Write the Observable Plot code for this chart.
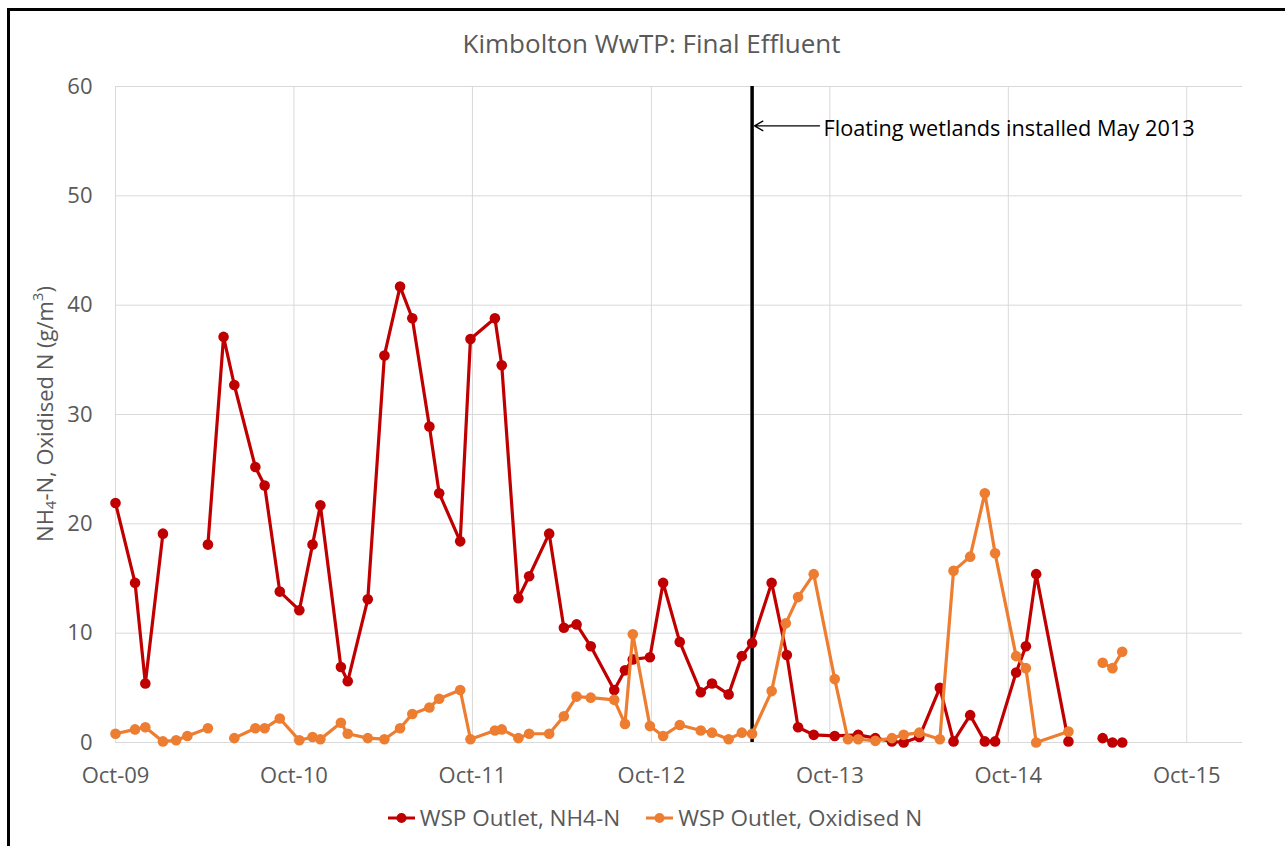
<!DOCTYPE html>
<html>
<head>
<meta charset="utf-8">
<script src="https://cdn.jsdelivr.net/npm/d3@7"></script>
<script src="https://cdn.jsdelivr.net/npm/@observablehq/plot@0.6"></script>
<style>
  html, body { margin: 0; padding: 0; background: #fff; }
  body { width: 1285px; height: 846px; overflow: hidden; position: relative; font-family: "Open Sans", sans-serif; }
  #frame { position: absolute; left: 7px; top: 8px; width: 1320px; height: 900px; border-left: 3px solid #000; border-top: 3px solid #000; box-sizing: border-box; }
  #title { position: absolute; left: 0; width: 1303px; top: 25px; text-align: center; font-size: 26px; color: #595959; line-height: 36px; }
  #chart { position: absolute; left: 0; top: 70px; }
  #legend { position: absolute; left: 0; width: 1310px; top: 803px; display: flex; justify-content: center; align-items: center; font-size: 22.5px; color: #595959; line-height: 30px; }
  .item { display: flex; align-items: center; }
  .item svg { margin-right: 5px; }
  .item + .item { margin-left: 26px; }
</style>
</head>
<body>
<div id="frame"></div>
<div id="title">Kimbolton WwTP: Final Effluent</div>
<div id="chart"></div>
<div id="legend"></div>
<script>
// ---- Data ----
const seriesNames = ["WSP Outlet, NH4-N", "WSP Outlet, Oxidised N"];
const seriesColors = ["#C00000", "#ED7D31"];

const nh4Dates = ["2009-10-01","2009-11-10","2009-12-01","2010-01-06","2010-02-15","2010-04-08","2010-05-10","2010-06-01","2010-07-14","2010-08-02","2010-09-02","2010-10-12","2010-11-08","2010-11-24","2011-01-05","2011-01-19","2011-03-01","2011-04-04","2011-05-06","2011-05-31","2011-07-05","2011-07-25","2011-09-06","2011-09-27","2011-11-16","2011-11-30","2012-01-03","2012-01-25","2012-03-06","2012-04-05","2012-05-01","2012-05-30","2012-07-17","2012-08-08","2012-08-24","2012-09-28","2012-10-25","2012-11-28","2013-01-10","2013-02-02","2013-03-08","2013-04-04","2013-04-25","2013-06-04","2013-07-05","2013-07-28","2013-08-29","2013-10-11","2013-11-28","2014-01-02","2014-02-05","2014-03-01","2014-04-02","2014-05-14","2014-06-11","2014-07-15","2014-08-14","2014-09-04","2014-10-17","2014-11-06","2014-11-27","2015-02-01","2015-03-07","2015-04-12","2015-05-02","2015-05-22"];
const nh4Values = [21.9,14.6,5.4,19.1,null,18.1,37.1,32.7,25.2,23.5,13.8,12.1,18.1,21.7,6.9,5.6,13.1,35.4,41.7,38.8,28.9,22.8,18.4,36.9,38.8,34.5,13.2,15.2,19.1,10.5,10.8,8.8,4.8,6.6,7.6,7.8,14.6,9.2,4.6,5.4,4.4,7.9,9.1,14.6,8.0,1.4,0.7,0.6,0.7,0.4,0.1,0.0,0.5,5.0,0.1,2.5,0.1,0.1,6.4,8.8,15.4,0.1,null,0.4,0.0,0.0];

const oxnDates = ["2009-10-01","2009-11-10","2009-12-01","2010-01-06","2010-02-02","2010-02-25","2010-04-08","2010-05-10","2010-06-01","2010-07-14","2010-08-02","2010-09-02","2010-10-12","2010-11-08","2010-11-24","2011-01-05","2011-01-19","2011-03-01","2011-04-04","2011-05-06","2011-05-31","2011-07-05","2011-07-25","2011-09-06","2011-09-27","2011-11-16","2011-11-30","2012-01-03","2012-01-25","2012-03-06","2012-04-05","2012-05-01","2012-05-30","2012-07-17","2012-08-08","2012-08-24","2012-09-28","2012-10-25","2012-11-28","2013-01-10","2013-02-02","2013-03-08","2013-04-04","2013-04-25","2013-06-04","2013-07-03","2013-07-28","2013-08-29","2013-10-11","2013-11-07","2013-11-28","2014-01-02","2014-02-05","2014-03-01","2014-04-02","2014-05-14","2014-06-11","2014-07-15","2014-08-14","2014-09-04","2014-10-17","2014-11-06","2014-11-27","2015-02-01","2015-03-07","2015-04-12","2015-05-02","2015-05-22"];
const oxnValues = [0.8,1.2,1.4,0.1,0.2,0.6,1.3,null,0.4,1.3,1.3,2.2,0.2,0.5,0.3,1.8,0.8,0.4,0.3,1.3,2.6,3.2,4.0,4.8,0.3,1.1,1.2,0.4,0.8,0.8,2.4,4.2,4.1,3.9,1.7,9.9,1.5,0.6,1.6,1.1,0.9,0.3,0.9,0.8,4.7,10.9,13.3,15.4,5.8,0.3,0.3,0.15,0.4,0.7,0.9,0.3,15.7,17.0,22.8,17.3,7.9,6.8,0.0,1.0,null,7.3,6.8,8.3];

const xTickDates = ["2009-10-01","2010-10-01","2011-10-01","2012-10-01","2013-10-01","2014-10-01","2015-10-01"];
const xTickLabels = ["Oct-09","Oct-10","Oct-11","Oct-12","Oct-13","Oct-14","Oct-15"];
const xDomain = ["2009-10-01","2016-01-23"];
const yTicks = [0,10,20,30,40,50,60];

const eventDate = "2013-04-25";
const annotation = {text: "Floating wetlands installed May 2013", arrowFrom: "2013-09-10", arrowTo: "2013-04-30", value: 56.4};

// ---- Build ----
const parse = s => new Date(s + "T00:00:00Z");
const nh4 = nh4Dates.map((d, i) => ({date: parse(d), value: nh4Values[i]}));
const oxn = oxnDates.map((d, i) => ({date: parse(d), value: oxnValues[i]}));
const ticks = xTickDates.map(parse);
const tickLabel = new Map(xTickDates.map((d, i) => [parse(d).getTime(), xTickLabels[i]]));

const grid = "#d9d9d9";
const chart = Plot.plot({
  width: 1285,
  height: 730,
  marginTop: 16,
  marginBottom: 58,
  marginLeft: 115,
  marginRight: 43,
  style: {fontFamily: "'Open Sans', sans-serif", fontSize: "22px", color: "#595959", background: "transparent", overflow: "visible"},
  x: {type: "utc", domain: xDomain.map(parse), ticks: ticks, tickFormat: d => tickLabel.get(d.getTime()), tickSize: 0, tickPadding: 25, label: null},
  y: {domain: [0, 60], ticks: yTicks, tickSize: 0, tickPadding: 23, label: null},
  marks: [
    Plot.ruleY(yTicks, {stroke: grid, strokeWidth: 1}),
    Plot.ruleX(ticks, {stroke: grid, strokeWidth: 1}),
    Plot.ruleX([parse(eventDate)], {stroke: "#000", strokeWidth: 3.5}),
    Plot.arrow([annotation], {x1: d => parse(d.arrowFrom), x2: d => parse(d.arrowTo), y1: "value", y2: "value", stroke: "#000", strokeWidth: 1.3, headLength: 11}),
    Plot.text([annotation], {x: d => parse(d.arrowFrom), y: d => d.value - 0.25, text: "text", textAnchor: "start", dx: 4, fill: "#000", fontSize: 21.7}),
    Plot.line(nh4, {x: "date", y: "value", stroke: seriesColors[0], strokeWidth: 3.2, curve: "linear"}),
    Plot.dot(nh4, {x: "date", y: "value", r: 5.3, fill: seriesColors[0], stroke: "none"}),
    Plot.line(oxn, {x: "date", y: "value", stroke: seriesColors[1], strokeWidth: 3.2, curve: "linear"}),
    Plot.dot(oxn, {x: "date", y: "value", r: 5.3, fill: seriesColors[1], stroke: "none"})
  ]
});
document.getElementById("chart").appendChild(chart);

// Y axis title with subscript/superscript
const svg = d3.select(chart);
const yl = svg.append("text")
  .attr("transform", "translate(47,344) rotate(-90)")
  .attr("text-anchor", "middle")
  .attr("dominant-baseline", "middle")
  .attr("fill", "#595959")
  .style("font-family", "'Open Sans', sans-serif")
  .style("font-size", "22px");
yl.append("tspan").text("NH");
yl.append("tspan").attr("dy", 5).style("font-size", "15px").text("4");
yl.append("tspan").attr("dy", -5).text("-N, Oxidised N (g/m");
yl.append("tspan").attr("dy", -8).style("font-size", "15px").text("3");
yl.append("tspan").attr("dy", 8).text(")");

// Legend
const legend = d3.select("#legend");
seriesNames.forEach((name, i) => {
  const item = legend.append("div").attr("class", "item");
  const s = item.append("svg").attr("width", 27).attr("height", 14);
  s.append("line").attr("x1", 0).attr("x2", 27).attr("y1", 7).attr("y2", 7).attr("stroke", seriesColors[i]).attr("stroke-width", 3);
  s.append("circle").attr("cx", 13.5).attr("cy", 7).attr("r", 5).attr("fill", seriesColors[i]);
  item.append("span").text(name);
});
</script>
</body>
</html>
